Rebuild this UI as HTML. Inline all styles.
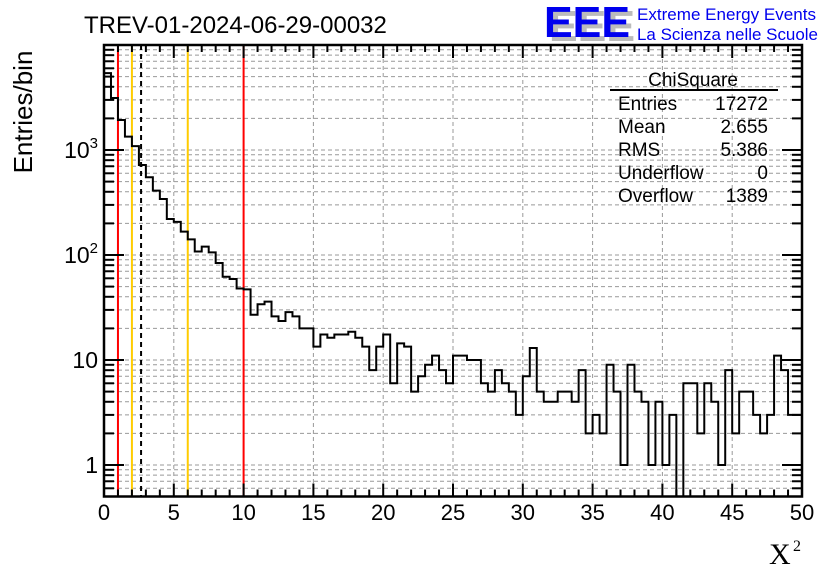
<!DOCTYPE html>
<html><head><meta charset="utf-8">
<style>
html,body{margin:0;padding:0;background:#fff;}
svg{display:block;}
text{font-family:"Liberation Sans",sans-serif;}
text.serif{font-family:"Liberation Serif",serif;}
</style></head>
<body>
<svg id="chart" width="836" height="572" viewBox="0 0 836 572" xmlns="http://www.w3.org/2000/svg">
<rect width="836" height="572" fill="#fff"/>
<g id="grid"></g>
<g id="vlines"></g>
<g id="hist"></g>
<g id="axes"></g>
<text x="84" y="33" font-size="24">TREV-01-2024-06-29-00032</text>
<g>
  <text x="549" y="41" font-size="44" font-weight="bold" fill="#bbb" textLength="86" lengthAdjust="spacingAndGlyphs">EEE</text>
  <text x="544" y="37" font-size="44" font-weight="bold" fill="#0000ee" textLength="86" lengthAdjust="spacingAndGlyphs">EEE</text>
  <text x="637" y="20" font-size="17" fill="#0000ee" textLength="179" lengthAdjust="spacingAndGlyphs">Extreme Energy Events</text>
  <text x="637" y="40" font-size="17" fill="#0000ee" textLength="181" lengthAdjust="spacingAndGlyphs">La Scienza nelle Scuole</text>
</g>
<g font-size="19">
  <text x="693" y="86" text-anchor="middle">ChiSquare</text>
  <line x1="610" y1="90" x2="778" y2="90" stroke="#000" stroke-width="2"/>
  <text x="618" y="110">Entries</text><text x="768" y="110" text-anchor="end">17272</text>
  <text x="618" y="133">Mean</text><text x="768" y="133" text-anchor="end">2.655</text>
  <text x="618" y="156">RMS</text><text x="768" y="156" text-anchor="end">5.386</text>
  <text x="618" y="179">Underflow</text><text x="768" y="179" text-anchor="end">0</text>
  <text x="618" y="202">Overflow</text><text x="768" y="202" text-anchor="end">1389</text>
</g>
<text transform="translate(32,112) rotate(-90)" text-anchor="middle" font-size="26">Entries/bin</text>
<g>
  <text class="serif" x="769" y="564" font-size="30">X</text>
  <text class="serif" x="793" y="551" font-size="16">2</text>
</g>
</svg>
<script>
const binCounts = [5400,3130,1930,1340,1090,720,550,410,341,220,207,167,141,108,120,106,84,62,59,48,
47,27,34,36,26,23.5,28.6,26,20,20,13.4,17.5,16.3,17.5,17.5,18.6,16.3,13.4,8,13.4,
17.5,6,14.4,13.4,5,7,9,11,8,6,11,11,10,10,6,5,8,6,5,3,
7,13,5,4,4,5,5,4,8,2,3,2,9,5,1,9,5,4,1,4,
1,3,0,6,6,2,6,4,1,8,2,5,5,3,2,3,11,8,3,3];
const xMin = 0, xMax = 50;
const xTicks = [0,5,10,15,20,25,30,35,40,45,50];
const yMajor = [1,10,100,1000];
const yLabels = ["1","10","10^2","10^3"];
const refRed = [1,10];
const refOrange = [2,6];
const meanLine = [2.655];

const L=104,R=802,T=45,B=496.5;
const Y1=465, DEC=105;
const NS="http://www.w3.org/2000/svg";
function xs(v){return L+(v-xMin)/(xMax-xMin)*(R-L);}
function ys(v){ if(v<=0) return B+5; return Y1-Math.log10(v)*DEC;}
function mk(tag,attrs,parent){const e=document.createElementNS(NS,tag);for(const k in attrs)e.setAttribute(k,attrs[k]);parent.appendChild(e);return e;}
const grid=document.getElementById('grid'), axes=document.getElementById('axes');
for(let d=-1;d<=3;d++){for(let m=1;m<=9;m++){const v=m*Math.pow(10,d);const y=ys(v);if(y<T||y>B)continue;
 const g=mk('line',{x1:L,x2:R,y1:y,y2:y,stroke:'#999','stroke-width':1,'stroke-dasharray':'4,3'},grid);
 
 
 const tl=(m===1)?20:10;
 const t1=mk('line',{x1:L,x2:L+tl,y1:y,y2:y,stroke:'#000','stroke-width':2},axes);
 
 
 const t2=mk('line',{x1:R,x2:R-tl,y1:y,y2:y,stroke:'#000','stroke-width':2},axes);
 
 
}}
xTicks.forEach(v=>{const x=xs(v);
 if(v>xMin&&v<xMax){const g=mk('line',{x1:x,x2:x,y1:T,y2:B,stroke:'#999','stroke-width':1,'stroke-dasharray':'4,3'},grid);
 
 }
 const t=mk('text',{x:x,y:520,'text-anchor':'middle','font-size':22},axes);t.textContent=String(v);
 
 
});
for(let i=0;i<=50;i++){const v=xMin+i;const x=xs(v);const len=(i%5===0)?13:7;
 const a=mk('line',{x1:x,x2:x,y1:B,y2:B-len,stroke:'#000','stroke-width':2},axes);
 
 
 const b=mk('line',{x1:x,x2:x,y1:T,y2:T+len,stroke:'#000','stroke-width':2},axes);
 
 
}
yMajor.forEach((v,i)=>{const y=ys(v);const lab=yLabels[i];
 const t=mk('text',{x:98,y:y+8,'text-anchor':'end','font-size':23},axes);
 
 
 if(lab.indexOf('^')>=0){const p=lab.split('^');t.textContent=p[0];
   const s=mk('tspan',{dy:-10,'font-size':15},t);s.textContent=p[1];
 } else t.textContent=lab;
});
const vl=document.getElementById('vlines');
function vline(v,col,dash,name){const x=xs(v);const l=mk('line',{x1:x,x2:x,y1:T,y2:B,stroke:col,'stroke-width':2},vl);if(dash)l.setAttribute('stroke-dasharray',dash);
 
 }
refRed.forEach(v=>vline(v,'#f00',null,'red-cut-line'));
refOrange.forEach(v=>vline(v,'#fc0',null,'orange-cut-line'));
meanLine.forEach(v=>vline(v,'#000','5,4','mean-line'));
const n=binCounts.length, w=(xMax-xMin)/n;
let d='M'+xs(xMin)+','+B;
binCounts.forEach((c,i)=>{const y=Math.max(T,Math.min(B+5,ys(c)));d+=' L'+xs(xMin+i*w)+','+y+' L'+xs(xMin+(i+1)*w)+','+y;});
d+=' L'+xs(xMax)+','+B;
const cp=mk('clipPath',{id:'cp'},document.getElementById('chart'));
mk('rect',{x:L,y:T,width:R-L,height:B-T},cp);
const h=mk('path',{d:d,fill:'none',stroke:'#000','stroke-width':2,'clip-path':'url(#cp)'},document.getElementById('hist'));


const fr=mk('rect',{x:L,y:T,width:R-L,height:B-T,fill:'none',stroke:'#000','stroke-width':2.5},axes);


</script>
</body></html>
